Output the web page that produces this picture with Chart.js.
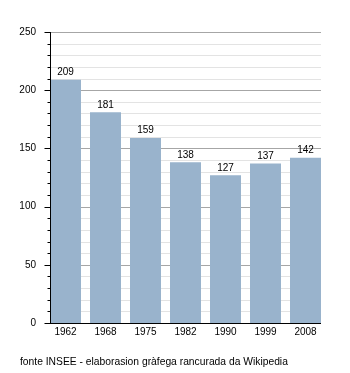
<!DOCTYPE html>
<html>
<head>
<meta charset="utf-8">
<script src="https://cdn.jsdelivr.net/npm/chart.js@4"></script>
<style>
  html, body { margin: 0; padding: 0; background: #fff; }
  canvas { display: block; }
</style>
</head>
<body>
<canvas id="graficoPopolacion" width="350" height="373"></canvas>
<script>
// Dati demografici
const anni = ['1962', '1968', '1975', '1982', '1990', '1999', '2008'];
const abitanti = [209, 181, 159, 138, 127, 137, 142];
const fonte = 'fonte INSEE - elaborasion gràfega rancurada da Wikipedia';

const colorBarra = '#99b3cc';
const font = 'Liberation Sans, Arial, sans-serif';

// Griglia, asse e tacche disegnati a man, dentro 50..321
const grigliaPlugin = {
    id: 'griglia',
    beforeDatasetsDraw(chart) {
        const ctx = chart.ctx;
        const y = chart.scales.y;
        const sx = 50, dx = 321;
        ctx.save();
        ctx.lineWidth = 1;
        for (let v = 10; v <= 250; v += 10) {
            const py = Math.round(y.getPixelForValue(v)) + 0.5;
            ctx.strokeStyle = (v % 50 === 0) ? '#a6a6a6' : '#e3e3e3';
            ctx.beginPath();
            ctx.moveTo(sx, py);
            ctx.lineTo(dx, py);
            ctx.stroke();
        }
        ctx.restore();
    },
    afterDatasetsDraw(chart) {
        const ctx = chart.ctx;
        const y = chart.scales.y;
        const ax = 50.5;
        ctx.save();
        ctx.strokeStyle = '#000';
        ctx.lineWidth = 1;
        // tacche
        for (let v = 0; v <= 250; v += 10) {
            const py = Math.round(y.getPixelForValue(v)) + 0.5;
            const lung = (v % 50 === 0) ? 6 : 3;
            ctx.beginPath();
            ctx.moveTo(ax - lung, py);
            ctx.lineTo(ax, py);
            ctx.stroke();
        }
        // asse verticale
        ctx.beginPath();
        ctx.moveTo(ax, Math.round(y.getPixelForValue(250)));
        ctx.lineTo(ax, Math.round(y.getPixelForValue(0)) + 1);
        ctx.stroke();
        // asse orizzontale
        const p0 = Math.round(y.getPixelForValue(0)) + 0.5;
        ctx.beginPath();
        ctx.moveTo(50, p0);
        ctx.lineTo(321, p0);
        ctx.stroke();

        // valori sopra le barre
        ctx.fillStyle = '#000';
        ctx.font = '10px ' + font;
        ctx.textAlign = 'center';
        ctx.textBaseline = 'alphabetic';
        chart.getDatasetMeta(0).data.forEach(function (barra, i) {
            ctx.fillText(String(abitanti[i]), barra.x, barra.y - 4.5);
        });

        // fonte
        ctx.font = '10.3px ' + font;
        ctx.textAlign = 'left';
        ctx.textBaseline = 'middle';
        ctx.fillText(fonte, 20, 362);
        ctx.restore();
    }
};

const config = {
    type: 'bar',
    data: {
        labels: anni,
        datasets: [{
            data: abitanti,
            backgroundColor: colorBarra,
            borderWidth: 0,
            categoryPercentage: 1,
            barPercentage: 0.775
        }]
    },
    options: {
        responsive: false,
        animation: false,
        layout: { padding: { left: 0, right: 24.5, top: 32, bottom: 0 } },
        plugins: {
            legend: { display: false },
            tooltip: { enabled: false }
        },
        scales: {
            x: {
                grid: { display: false, drawTicks: false },
                border: { display: false },
                ticks: {
                    color: '#000',
                    padding: 3,
                    maxRotation: 0,
                    font: { family: font, size: 10 }
                },
                afterFit(scale) { scale.height = 50; }
            },
            y: {
                min: 0,
                max: 250,
                grid: { display: false, drawTicks: false },
                border: { display: false },
                ticks: {
                    stepSize: 50,
                    color: '#000',
                    padding: 9.5,
                    font: { family: font, size: 10 }
                },
                afterFit(scale) { scale.width = 45.5; }
            }
        }
    },
    plugins: [grigliaPlugin]
};

new Chart(document.getElementById('graficoPopolacion'), config);
</script>
</body>
</html>
